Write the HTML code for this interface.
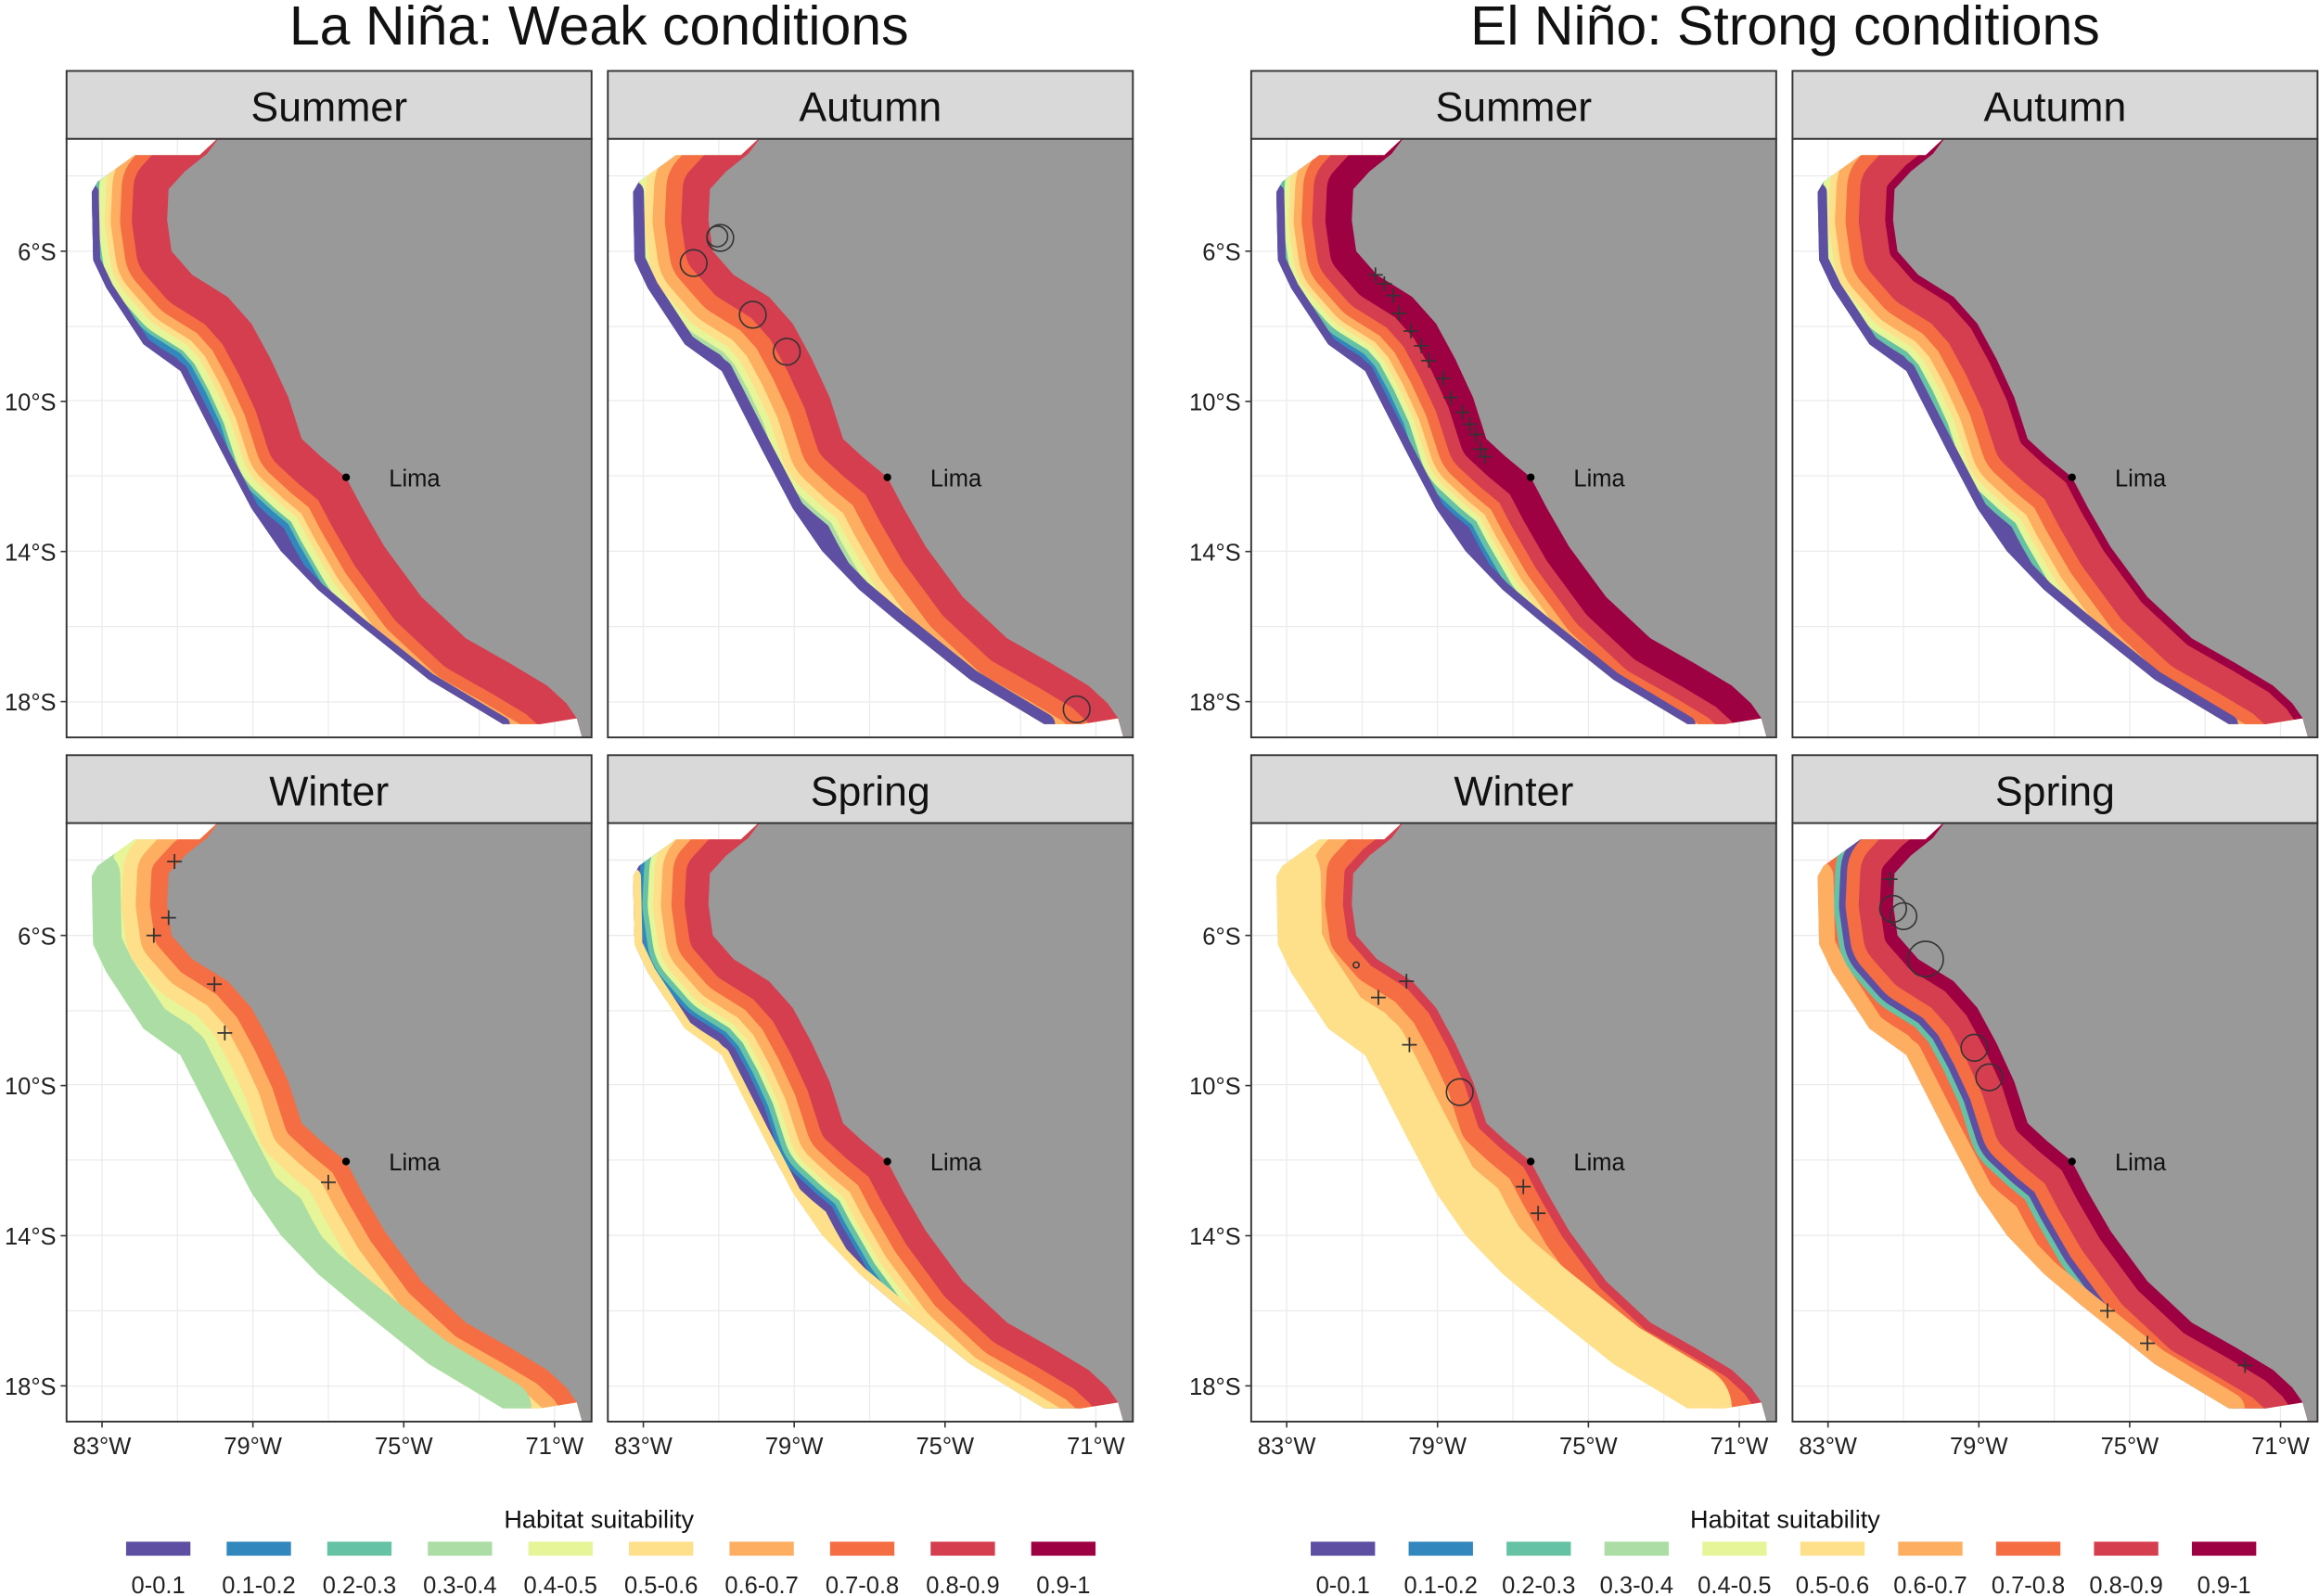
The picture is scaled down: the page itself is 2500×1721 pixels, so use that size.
<!DOCTYPE html>
<html><head><meta charset="utf-8">
<style>
html,body{margin:0;padding:0;background:#fff;}
svg{display:block;font-family:"Liberation Sans",Arial,sans-serif;}
</style></head>
<body>
<svg id="fig" width="2500" height="1721" viewBox="0 0 1568 1080" preserveAspectRatio="none" xmlns="http://www.w3.org/2000/svg">
<text x="405" y="30" font-size="37" text-anchor="middle" fill="#111">La Niña: Weak conditions</text>
<text x="1207" y="30" font-size="37" text-anchor="middle" fill="#111">El Niño: Strong conditions</text>
</svg>
<script>
const colors=["#5E4FA2","#3288BD","#66C2A5","#ABDDA4","#E6F598","#FEE08B","#FDAE61","#F46D43","#D53E4F","#9E0142"];
const classLabels=["0-0.1","0.1-0.2","0.2-0.3","0.3-0.4","0.4-0.5","0.5-0.6","0.6-0.7","0.7-0.8","0.8-0.9","0.9-1"];
const yTicks=["6°S","10°S","14°S","18°S"];
const xTicks=["83°W","79°W","75°W","71°W"];
const coast=[[104,-2],[95,10],[80,22],[69,34],[68,55],[71,76],[85,92],[109,107],[125,125],[138,149],[150,175],[159,203],[172,215],[189,229],[200,250],[215,276],[240,310],[270,338],[300,355],[325,370],[338,382],[345,392],[350,410]];
const outer=[[104,-2],[90,11],[46,11],[21,29],[17,36],[18,82],[27,101],[52,139],[77,157],[104,210],[125,250],[145,279],[170,305],[195,326],[245,366],[295,396],[320,396],[345,392],[350,410],[360,410],[360,-2]];
const bandsLNSummer=[[8,30],[7,10],[6,8],[5,5],[4,6],[2,3],[1,5],[0,6]];
const bandsLNAutumn=[[8,20],[7,12],[6,9],[5,6],[4,5],[3,3],[0,8]];
const bandsLNWinter=[[7,12],[6,10],[5,10],[4,8],[3,20]];
const bandsLNSpring=[[8,18],[7,10],[6,8],[5,6],[4,4],[2,4],[1,3],[0,6],[5,6]];
const bandsENSummer=[[9,20],[8,10],[7,8],[6,6],[5,4],[4,4],[2,4],[1,3],[0,6]];
const bandsENAutumn=[[9,6],[8,20],[7,10],[6,8],[5,5],[4,5],[2,4],[0,7]];
const bandsENWinter=[[8,6],[7,12],[6,10],[5,30]];
const bandsENSpring=[[9,10],[8,16],[7,10],[0,5],[2,4],[7,8],[6,12]];
const circLNAutumn=[[76,67,9],[74,66,7],[58,84,9],[98,119,9],[121,144,9],[317,386,9]];
const crossLNWinter=[[73,26],[69,64],[59,76],[100,109],[107,142],[177,243]];
const crossENSummer=[[84,92],[90,98],[96,106],[100,118],[108,130],[115,140],[120,150],[130,162],[135,175],[143,185],[148,193],[152,200],[155,210],[158,215]];
const circENWinter=[[141,182,9],[71,96,2]];
const crossENWinter=[[105,107],[86,118],[107,150],[184,246],[194,264]];
const circENSpring=[[68,58,9],[75,63,9],[90,92,12],[123,152,9],[133,172,9]];
const crossENSpring=[[66,38],[213,330],[240,352],[306,367]];

const NS="http://www.w3.org/2000/svg";
const svg=document.getElementById('fig');
function mk(tag,attrs,parent){const e=document.createElementNS(NS,tag);for(const k in attrs)e.setAttribute(k,attrs[k]);(parent||svg).appendChild(e);return e;}
const ptStr=a=>a.map(p=>p[0]+","+p[1]).join(" ");
const coastPath="M"+coast.map(p=>p[0]+" "+p[1]).join(" L");
const seaEdge=outer.slice(4,16);
const seaPath="M"+seaEdge.map(p=>p[0]+" "+p[1]).join(" L");
const landPts=ptStr(coast.concat([[360,410],[360,-2]]));
const PW=355,MH=405,SH=46,BANDW=58;
const panels=[
 {g:45,col:0,row:0,name:"Summer",bands:bandsLNSummer,circ:[],cross:[]},
 {g:45,col:1,row:0,name:"Autumn",bands:bandsLNAutumn,circ:circLNAutumn,cross:[]},
 {g:45,col:0,row:1,name:"Winter",bands:bandsLNWinter,circ:[],cross:crossLNWinter},
 {g:45,col:1,row:1,name:"Spring",bands:bandsLNSpring,circ:[],cross:[]},
 {g:846,col:0,row:0,name:"Summer",bands:bandsENSummer,circ:[],cross:crossENSummer},
 {g:846,col:1,row:0,name:"Autumn",bands:bandsENAutumn,circ:[],cross:[]},
 {g:846,col:0,row:1,name:"Winter",bands:bandsENWinter,circ:circENWinter,cross:crossENWinter},
 {g:846,col:1,row:1,name:"Spring",bands:bandsENSpring,circ:circENSpring,cross:crossENSpring}
];
const defs=mk('defs',{});
panels.forEach((p,i)=>{
 const x0=p.g+p.col*366, sy=p.row?511:48, my=sy+SH;
 const grp=mk('g',{});
 
 
 const strip=mk('rect',{x:x0,y:sy,width:PW,height:SH,fill:"#d9d9d9",stroke:"#333","stroke-width":1.2},grp);
 
 
 const st=mk('text',{x:x0+PW/2,y:sy+34,"font-size":28,"text-anchor":"middle",fill:"#111"},grp);
 st.textContent=p.name;
 
 
 const cp=mk('clipPath',{id:"pc"+i},defs);
 mk('rect',{x:0,y:0,width:PW,height:MH},cp);
 const cb=mk('clipPath',{id:"bc"+i},defs);
 mk('polygon',{points:ptStr(outer)},cb);
 const m=mk('g',{transform:`translate(${x0},${my})`,"clip-path":`url(#pc${i})`},grp);
 mk('rect',{x:0,y:0,width:PW,height:MH,fill:"#fff"},m);
 [24,75,126,177,228,279,330].forEach(v=>mk('line',{x1:v,y1:0,x2:v,y2:MH,stroke:"#ebebeb","stroke-width":0.8},m));
 [25,76,127,177,228,279,330,381].forEach(v=>mk('line',{x1:0,y1:v,x2:PW,y2:v,stroke:"#ebebeb","stroke-width":0.8},m));
 const bg=mk('g',{"clip-path":`url(#bc${i})`},m);
 const n=p.bands.length;
 const total=p.bands.reduce((s,b)=>s+b[1],0);
 const sc=BANDW/total;
 const last=p.bands[n-1];
 const f=mk('rect',{x:0,y:0,width:PW,height:MH,fill:colors[last[0]]},bg);
 
 
 let cum=BANDW-last[1]*sc;
 for(let k=n-2;k>=0;k--){
  const b=mk('path',{d:coastPath,fill:"none",stroke:colors[p.bands[k][0]],"stroke-width":2*cum,"stroke-linejoin":"round"},bg);
  
  
  cum-=p.bands[k][1]*sc;
 }
 const oe=mk('path',{d:seaPath,fill:"none",stroke:colors[last[0]],"stroke-width":Math.max(2*last[1]*sc,6),"stroke-linejoin":"round","stroke-linecap":"round"},bg);
 
 
 const land=mk('polygon',{points:landPts,fill:"#999999"},m);
 
 
 const ld=mk('circle',{cx:189,cy:229,r:2.6,fill:"#000"},m);
 
 
 const lt=mk('text',{x:218,y:235,"font-size":16,fill:"#111"},m);
 lt.textContent="Lima";
 
 
 p.circ.forEach(c=>{const e=mk('circle',{cx:c[0],cy:c[1],r:c[2],fill:"none",stroke:"#333","stroke-width":1},m);
  
  });
 p.cross.forEach(c=>{const e=mk('path',{d:`M${c[0]-5} ${c[1]} h10 M${c[0]} ${c[1]-5} v10`,stroke:"#333","stroke-width":1.1},m);
  
  });
 const bd=mk('rect',{x:x0,y:my,width:PW,height:MH,fill:"none",stroke:"#333","stroke-width":1.2},grp);
 
 
 if(p.col===0){
  yTicks.forEach((t,k)=>{const yy=my+76+k*101.6;
   mk('line',{x1:x0-4,y1:yy,x2:x0,y2:yy,stroke:"#333"},grp);
   const e=mk('text',{x:x0-7,y:yy+6,"font-size":16,"text-anchor":"end",fill:"#222"},grp);
   e.textContent=t;
   
   });
 }
 if(p.row===1){
  xTicks.forEach((t,k)=>{const xx=x0+24+k*102;
   mk('line',{x1:xx,y1:my+MH,x2:xx,y2:my+MH+4,stroke:"#333"},grp);
   const e=mk('text',{x:xx,y:my+MH+22,"font-size":16,"text-anchor":"middle",fill:"#222"},grp);
   e.textContent=t;
   
   });
 }
});
[[405,107,68],[1207,908,66.2]].forEach(([cx,first,step],gi)=>{
 const lg=mk('g',{});
 
 
 const t=mk('text',{x:cx,y:1034,"font-size":17,"text-anchor":"middle",fill:"#111"},lg);
 t.textContent="Habitat suitability";
 
 
 colors.forEach((c,k)=>{const xx=first+k*step;
  const r=mk('rect',{x:xx-22,y:1043,width:44,height:10,fill:c,stroke:"#fff","stroke-width":0.5},lg);
  
  
  const l=mk('text',{x:xx,y:1078,"font-size":16,"text-anchor":"middle",fill:"#222"},lg);
  l.textContent=classLabels[k];
  
  });
});
</script>
</body></html>
